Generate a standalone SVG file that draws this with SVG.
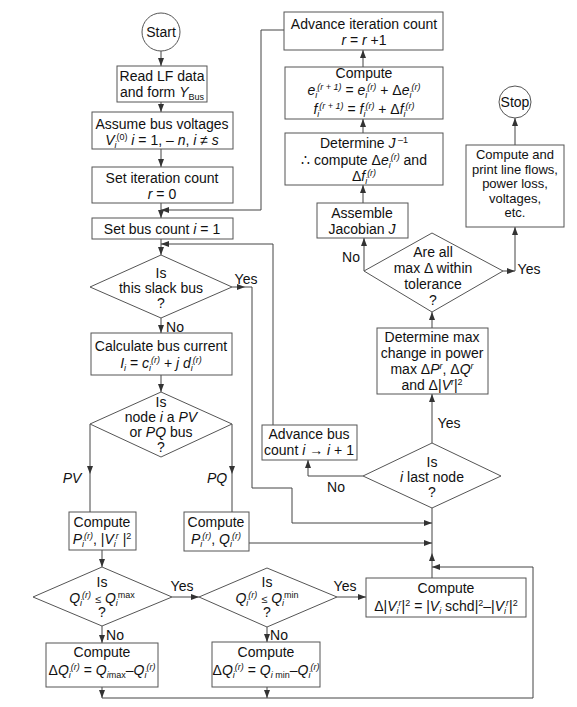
<svg xmlns="http://www.w3.org/2000/svg" width="577" height="707" viewBox="0 0 577 707">
<style>
.t{font-family:"Liberation Sans",Arial,Helvetica,sans-serif;font-size:14px;fill:#111;text-anchor:middle}
.p{font-size:13px}
.i{font-style:italic}
.sb{font-size:9px;baseline-shift:-3px}
.sp{font-size:9px;baseline-shift:5px}
.bx{fill:#fff;stroke:#555;stroke-width:1}
.ln{fill:none;stroke:#444;stroke-width:1}
.ar{marker-end:url(#a)}
</style>
<defs>
<marker id="a" markerWidth="8" markerHeight="6" refX="8" refY="3" orient="auto" markerUnits="userSpaceOnUse"><path d="M0,0L8,3L0,6z" fill="#333"/></marker>
</defs>
<rect width="577" height="707" fill="#fff"/>

<g id="connectors">
<path class="ln ar" d="M161,51V66"/>
<path class="ln ar" d="M161,102V112"/>
<path class="ln ar" d="M161,149V167"/>
<path class="ln ar" d="M161,203V218"/>
<path class="ln ar" d="M161,239V255"/>
<path class="ln ar" d="M284,30H261V210H161"/>
<path class="ln ar" d="M273,425V244H161"/>
<path class="ln ar" d="M161,318V333"/>
<path class="ln ar" d="M232,287H245"/>
<path class="ln ar" d="M245,287H252V488H292V523H432"/>
<path class="ln ar" d="M161,375V392"/>
<path class="ln ar" d="M90,424V474"/>
<path class="ln" d="M90,474V512"/>
<path class="ln ar" d="M232,424V474"/>
<path class="ln" d="M232,474V512"/>
<path class="ln ar" d="M102,550V567"/>
<path class="ln ar" d="M249,543H432"/>
<path class="ln ar" d="M172,597H199"/>
<path class="ln ar" d="M102,626V643"/>
<path class="ln ar" d="M267,627V642"/>
<path class="ln ar" d="M337,597H366"/>
<path class="ln ar" d="M102,687V698"/>
<path class="ln ar" d="M267,687V698"/>
<path class="ln ar" d="M102,698H533V567H432"/>
<path class="ln ar" d="M432,578V553"/>
<path class="ln" d="M432,553V508"/>
<path class="ln ar" d="M363,476H308V460"/>
<path class="ln ar" d="M432,443V394"/>
<path class="ln ar" d="M432,328V312"/>
<path class="ln ar" d="M364,271V238"/>
<path class="ln ar" d="M503,271H515"/>
<path class="ln ar" d="M515,271V227"/>
<path class="ln ar" d="M515,145V118"/>
<path class="ln ar" d="M363,203V185"/>
<path class="ln ar" d="M363,133V119"/>
<path class="ln ar" d="M363,67V50"/>
</g>

<g id="labels">
<text class="t" x="246" y="284">Yes</text>
<text class="t" x="175" y="332">No</text>
<text class="t i" x="72" y="483">PV</text>
<text class="t i" x="217" y="483">PQ</text>
<text class="t" x="336" y="492">No</text>
<text class="t" x="449" y="428">Yes</text>
<text class="t" x="351" y="262">No</text>
<text class="t" x="529" y="274">Yes</text>
<text class="t" x="182" y="591">Yes</text>
<text class="t" x="115" y="640">No</text>
<text class="t" x="345" y="591">Yes</text>
<text class="t" x="279" y="640">No</text>
</g>

<g id="start">
<circle class="bx" cx="161" cy="32" r="19"/>
<text class="t" x="161" y="37">Start</text>
</g>

<g id="read">
<rect class="bx" x="117" y="66" width="90" height="36"/>
<text class="t" x="162" y="81">Read LF data</text>
<text class="t" x="162" y="97">and form <tspan class="i">Y</tspan><tspan class="sb">Bus</tspan></text>
</g>

<g id="assume">
<rect class="bx" x="92" y="112" width="141" height="37"/>
<text class="t" x="162" y="129">Assume bus voltages</text>
<text class="t" x="162" y="145"><tspan class="i">V</tspan><tspan class="sb i">i</tspan><tspan class="sp">(0)</tspan> <tspan class="i">i</tspan> = 1, – <tspan class="i">n</tspan>, <tspan class="i">i</tspan> ≠ <tspan class="i">s</tspan></text>
</g>

<g id="setiter">
<rect class="bx" x="92" y="167" width="141" height="36"/>
<text class="t" x="162" y="183">Set iteration count</text>
<text class="t" x="162" y="199"><tspan class="i">r</tspan> = 0</text>
</g>

<g id="setbus">
<rect class="bx" x="92" y="218" width="141" height="21"/>
<text class="t" x="162" y="234">Set bus count <tspan class="i">i</tspan> = 1</text>
</g>

<g id="slack">
<polygon class="bx" points="161,255 232,287 161,318 90,287"/>
<text class="t" x="161" y="278">Is</text>
<text class="t" x="161" y="293">this slack bus</text>
<text class="t" x="161" y="308">?</text>
</g>

<g id="calc">
<rect class="bx" x="91" y="333" width="141" height="42"/>
<text class="t" x="161" y="351">Calculate bus current</text>
<text class="t" x="161" y="368"><tspan class="i">I</tspan><tspan class="sb i">i</tspan> = <tspan class="i">c</tspan><tspan class="sb i">i</tspan><tspan class="sp i">(r)</tspan> + <tspan class="i">j d</tspan><tspan class="sb i">i</tspan><tspan class="sp i">(r)</tspan></text>
</g>

<g id="pvpq">
<polygon class="bx" points="161,392 232,424 161,457 90,424"/>
<text class="t" x="161" y="407">Is</text>
<text class="t" x="161" y="422">node <tspan class="i">i</tspan> a <tspan class="i">PV</tspan></text>
<text class="t" x="161" y="437">or  <tspan class="i">PQ</tspan> bus</text>
<text class="t" x="161" y="452">?</text>
</g>

<g id="comppv">
<rect class="bx" x="69" y="512" width="67" height="38"/>
<text class="t" x="102" y="527">Compute</text>
<text class="t" x="102" y="544"><tspan class="i">P</tspan><tspan class="sb i">i</tspan><tspan class="sp i">(r)</tspan>, |<tspan class="i">V</tspan><tspan class="sb i">i</tspan><tspan class="sp i">r</tspan> |<tspan class="sp">2</tspan></text>
</g>

<g id="comppq">
<rect class="bx" x="184" y="512" width="65" height="39"/>
<text class="t" x="216" y="527">Compute</text>
<text class="t" x="216" y="544"><tspan class="i">P</tspan><tspan class="sb i">i</tspan><tspan class="sp i">(r)</tspan>, <tspan class="i">Q</tspan><tspan class="sb i">i</tspan><tspan class="sp i">(r)</tspan></text>
</g>

<g id="qmax">
<polygon class="bx" points="102,567 172,597 102,626 33,597"/>
<text class="t" x="102" y="587">Is</text>
<text class="t" x="102" y="603"><tspan class="i">Q</tspan><tspan class="sb i">i</tspan><tspan class="sp i">(r)</tspan> <tspan font-size="11">≤</tspan> <tspan class="i">Q</tspan><tspan class="sb i">i</tspan><tspan class="sp">max</tspan></text>
<text class="t" x="102" y="617" font-size="11">?</text>
</g>

<g id="qmin">
<polygon class="bx" points="267,568 337,597 267,627 199,597"/>
<text class="t" x="267" y="587">Is</text>
<text class="t" x="267" y="603"><tspan class="i">Q</tspan><tspan class="sb i">i</tspan><tspan class="sp i">(r)</tspan> <tspan font-size="11">≤</tspan> <tspan class="i">Q</tspan><tspan class="sb i">i</tspan><tspan class="sp">min</tspan></text>
<text class="t" x="267" y="617" font-size="11">?</text>
</g>

<g id="dqmax">
<rect class="bx" x="46" y="643" width="112" height="44"/>
<text class="t" x="102" y="657">Compute</text>
<text class="t" x="102" y="675">Δ<tspan class="i">Q</tspan><tspan class="sb i">i</tspan><tspan class="sp i">(r)</tspan> = <tspan class="i">Q</tspan><tspan class="sb"><tspan class="i">i</tspan>max</tspan>–<tspan class="i">Q</tspan><tspan class="sb i">i</tspan><tspan class="sp i">(r)</tspan></text>
</g>

<g id="dqmin">
<rect class="bx" x="212" y="642" width="108" height="45"/>
<text class="t" x="266" y="657">Compute</text>
<text class="t" x="266" y="675">Δ<tspan class="i">Q</tspan><tspan class="sb i">i</tspan><tspan class="sp i">(r)</tspan> = <tspan class="i">Q</tspan><tspan class="sb"><tspan class="i">i</tspan> min</tspan>–<tspan class="i">Q</tspan><tspan class="sb i">i</tspan><tspan class="sp i">(r)</tspan></text>
</g>

<g id="dv">
<rect class="bx" x="366" y="578" width="160" height="39"/>
<text class="t" x="446" y="593">Compute</text>
<text class="t" x="446" y="611">Δ|<tspan class="i">V</tspan><tspan class="sb i">i</tspan><tspan class="sp i">r</tspan>|<tspan class="sp">2</tspan> = |<tspan class="i">V</tspan><tspan class="sb i">i</tspan> schd|<tspan class="sp">2</tspan>–|<tspan class="i">V</tspan><tspan class="sb i">i</tspan><tspan class="sp i">r</tspan>|<tspan class="sp">2</tspan></text>
</g>

<g id="lastnode">
<polygon class="bx" points="432,443 501,476 432,508 363,476"/>
<text class="t" x="432" y="467">Is</text>
<text class="t" x="432" y="482"><tspan class="i">i</tspan> last node</text>
<text class="t" x="432" y="497">?</text>
</g>

<g id="advbus">
<rect class="bx" x="262" y="425" width="95" height="35"/>
<text class="t" x="309" y="439">Advance bus</text>
<text class="t" x="309" y="455">count <tspan class="i">i</tspan> → <tspan class="i">i</tspan> + 1</text>
</g>

<g id="detmax">
<rect class="bx" x="377" y="328" width="111" height="66"/>
<text class="t" x="432" y="342">Determine max</text>
<text class="t" x="432" y="358">change in power</text>
<text class="t" x="432" y="374">max  Δ<tspan class="i">P</tspan><tspan class="sp i">r</tspan>, Δ<tspan class="i">Q</tspan><tspan class="sp i">r</tspan></text>
<text class="t" x="432" y="390">and Δ|<tspan class="i">V</tspan><tspan class="sp i">r</tspan>|<tspan class="sp">2</tspan></text>
</g>

<g id="tolerance">
<polygon class="bx" points="432,233 503,271 432,312 364,271"/>
<text class="t" x="433" y="257">Are all</text>
<text class="t" x="433" y="273">max Δ within</text>
<text class="t" x="433" y="289">tolerance</text>
<text class="t" x="433" y="305">?</text>
</g>

<g id="assemble">
<rect class="bx" x="317" y="203" width="91" height="35"/>
<text class="t" x="362" y="218">Assemble</text>
<text class="t" x="362" y="234">Jacobian <tspan class="i">J</tspan></text>
</g>

<g id="detj">
<rect class="bx" x="285" y="133" width="158" height="52"/>
<text class="t" x="364" y="148">Determine <tspan class="i">J</tspan><tspan class="sp"> –1</tspan></text>
<text class="t" x="364" y="165">∴ compute Δ<tspan class="i">e</tspan><tspan class="sb i">i</tspan><tspan class="sp i">(r)</tspan> and</text>
<text class="t" x="364" y="181">Δ<tspan class="i">f</tspan><tspan class="sb i">i</tspan><tspan class="sp i">(r)</tspan></text>
</g>

<g id="computeef">
<rect class="bx" x="285" y="67" width="158" height="52"/>
<text class="t" x="364" y="78">Compute</text>
<text class="t" x="364" y="95"><tspan class="i">e</tspan><tspan class="sb i">i</tspan><tspan class="sp i">(r + 1)</tspan> = <tspan class="i">e</tspan><tspan class="sb i">i</tspan><tspan class="sp i">(r)</tspan> + Δ<tspan class="i">e</tspan><tspan class="sb i">i</tspan><tspan class="sp i">(r)</tspan></text>
<text class="t" x="364" y="114"><tspan class="i">f</tspan><tspan class="sb i">i</tspan><tspan class="sp i">(r + 1)</tspan> = <tspan class="i">f</tspan><tspan class="sb i">i</tspan><tspan class="sp i">(r)</tspan> + Δ<tspan class="i">f</tspan><tspan class="sb i">i</tspan><tspan class="sp i">(r)</tspan></text>
</g>

<g id="advancer">
<rect class="bx" x="284" y="12" width="159" height="38"/>
<text class="t" x="364" y="29">Advance iteration count</text>
<text class="t" x="364" y="45"><tspan class="i">r</tspan> = <tspan class="i">r</tspan> +1</text>
</g>

<g id="stop">
<circle class="bx" cx="515" cy="102" r="16"/>
<text class="t" x="515" y="107">Stop</text>
</g>

<g id="print">
<rect class="bx" x="466" y="145" width="98" height="82"/>
<text class="t p" x="515" y="159">Compute and</text>
<text class="t p" x="515" y="173.5">print line flows,</text>
<text class="t p" x="515" y="188">power loss,</text>
<text class="t p" x="515" y="202.5">voltages,</text>
<text class="t p" x="515" y="217">etc.</text>
</g>
</svg>
